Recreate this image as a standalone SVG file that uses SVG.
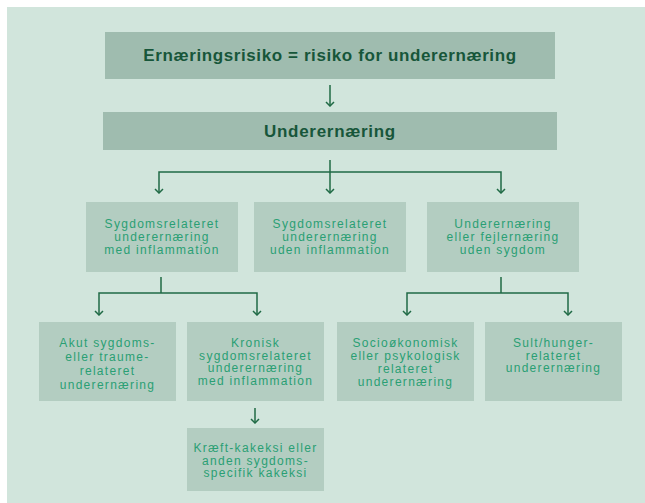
<svg xmlns="http://www.w3.org/2000/svg" width="645" height="503" viewBox="0 0 645 503">
<defs>
<style>
.bg{fill:#d1e5dc}
.b1{fill:#9fbcaf}
.b2{fill:#b3cdc1}
.t1{font-family:"Liberation Sans","DejaVu Sans",sans-serif;font-weight:bold;font-size:17px;fill:#17563a;text-anchor:middle}
.t2{font-family:"Liberation Sans","DejaVu Sans",sans-serif;font-size:12px;letter-spacing:1.3px;fill:#2a9f74;text-anchor:middle}
.ln{fill:none;stroke:#1f6a45;stroke-width:1.5}
</style>
<marker id="ah" viewBox="0 0 10 10" refX="9" refY="5" markerWidth="10" markerHeight="10" markerUnits="userSpaceOnUse" orient="auto-start-reverse">
<path d="M5,1 L9,5 L5,9" fill="none" stroke="#1f6a45" stroke-width="1.5"/>
</marker>
</defs>
<rect class="bg" x="7" y="7" width="638" height="496"/>
<g id="connectors">
<path class="ln" d="M330,85 V106" marker-end="url(#ah)"/>
<path class="ln" d="M330,160 V193" marker-end="url(#ah)"/>
<path class="ln" d="M159,193 V172 H501 V193" marker-start="url(#ah)" marker-end="url(#ah)"/>
<path class="ln" d="M161,277 V293"/>
<path class="ln" d="M99,315 V293 H257 V315" marker-start="url(#ah)" marker-end="url(#ah)"/>
<path class="ln" d="M501,277 V293"/>
<path class="ln" d="M407,315 V293 H568 V315" marker-start="url(#ah)" marker-end="url(#ah)"/>
<path class="ln" d="M255,408 V423" marker-end="url(#ah)"/>
</g>
<g id="n-risiko">
<rect class="b1" x="105" y="32" width="450" height="47"/>
<text class="t1" x="330" y="61" style="letter-spacing:0.6px">Ernæringsrisiko = risiko for underernæring</text>
</g>
<g id="n-under">
<rect class="b1" x="103" y="112" width="454" height="38"/>
<text class="t1" x="330" y="137" style="letter-spacing:0.7px">Underernæring</text>
</g>
<g id="n-med">
<rect class="b2" x="86" y="202" width="152" height="70"/>
<text class="t2" x="162" y="228"><tspan x="162">Sygdomsrelateret</tspan><tspan x="162" dy="13">underernæring</tspan><tspan x="162" dy="13">med inflammation</tspan></text>
</g>
<g id="n-uden">
<rect class="b2" x="254" y="202" width="152" height="70"/>
<text class="t2" x="330" y="228"><tspan x="330">Sygdomsrelateret</tspan><tspan x="330" dy="13">underernæring</tspan><tspan x="330" dy="13">uden inflammation</tspan></text>
</g>
<g id="n-fejl">
<rect class="b2" x="427" y="202" width="152" height="70"/>
<text class="t2" x="503" y="228"><tspan x="503">Underernæring</tspan><tspan x="503" dy="13">eller fejlernæring</tspan><tspan x="503" dy="13">uden sygdom</tspan></text>
</g>
<g id="n-akut">
<rect class="b2" x="39" y="322" width="137" height="79"/>
<text class="t2" x="107.5" y="347"><tspan x="107.5">Akut sygdoms-</tspan><tspan x="107.5" dy="14">eller traume-</tspan><tspan x="107.5" dy="14">relateret</tspan><tspan x="107.5" dy="14">underernæring</tspan></text>
</g>
<g id="n-kronisk">
<rect class="b2" x="187" y="322" width="137" height="79"/>
<text class="t2" x="255.5" y="347"><tspan x="255.5">Kronisk</tspan><tspan x="255.5" dy="12.5">sygdomsrelateret</tspan><tspan x="255.5" dy="12.5">underernæring</tspan><tspan x="255.5" dy="12.5">med inflammation</tspan></text>
</g>
<g id="n-socio">
<rect class="b2" x="337" y="322" width="137" height="79"/>
<text class="t2" x="405.5" y="347"><tspan x="405.5">Socioøkonomisk</tspan><tspan x="405.5" dy="13">eller psykologisk</tspan><tspan x="405.5" dy="13">relateret</tspan><tspan x="405.5" dy="13">underernæring</tspan></text>
</g>
<g id="n-sult">
<rect class="b2" x="485" y="322" width="137" height="79"/>
<text class="t2" x="553.5" y="347"><tspan x="553.5">Sult/hunger-</tspan><tspan x="553.5" dy="12.5">relateret</tspan><tspan x="553.5" dy="12.5">underernæring</tspan></text>
</g>
<g id="n-kaek">
<rect class="b2" x="187" y="428" width="137" height="63"/>
<text class="t2" x="255.5" y="452"><tspan x="255.5">Kræft-kakeksi eller</tspan><tspan x="255.5" dy="12.5">anden sygdoms-</tspan><tspan x="255.5" dy="12.5">specifik kakeksi</tspan></text>
</g>
</svg>
